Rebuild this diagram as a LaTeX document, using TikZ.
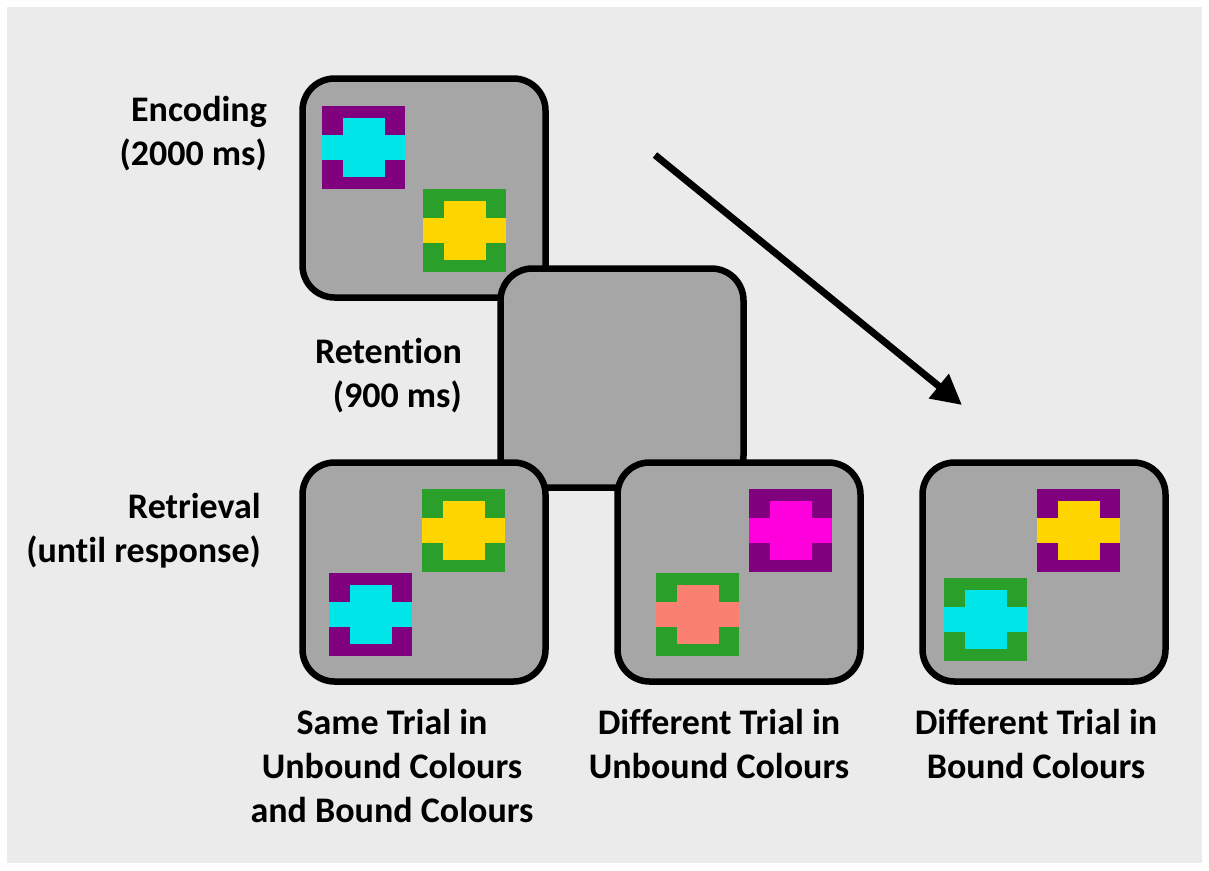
\documentclass[tikz,border=0pt]{standalone}
\usepackage{fontspec}
\setmainfont{Carlito}[Ligatures=NoCommon]
\usetikzlibrary{arrows.meta}
\definecolor{bgc}{HTML}{EBEBEB}
\definecolor{boxc}{HTML}{A6A6A6}
\definecolor{cpurple}{HTML}{800080}
\definecolor{ccyan}{HTML}{00E6E8}
\definecolor{cgreen}{HTML}{2AA02A}
\definecolor{cyellow}{HTML}{FFD500}
\definecolor{cmagenta}{HTML}{FF00DC}
\definecolor{csalmon}{HTML}{FA8072}
\newcommand\stimulus[4]{%
  \fill[#3] (#1,#2) rectangle ++(83,83);
  \fill[#4] ({#1+0.25*83},{#2+0.15*83}) rectangle ({#1+0.76*83},{#2+0.86*83});
  \fill[#4] (#1,{#2+0.35*83}) rectangle ({#1+83},{#2+0.65*83});
}
\tikzset{
  screen/.style={draw=black, fill=boxc, line width=6.5pt, rounded corners=32pt,
    minimum width=243pt, minimum height=219pt, inner sep=0pt},
  lbl/.style={font=\fontsize{36}{44}\selectfont\bfseries, text=black, inner sep=0pt},
  flow/.style={draw=black, line width=7pt, -{Triangle[length=30pt,width=30pt]}}
}
\begin{document}
\begin{tikzpicture}[x=1pt,y=-1pt]
\useasboundingbox (0,0) rectangle (1209,870);
\fill[white] (0,0) rectangle (1209,870);
\fill[bgc] (7,7) rectangle (1202,863);

% encoding screen
\node[screen] (enc) at (424,188) {};
\stimulus{322}{106}{cpurple}{ccyan}
\stimulus{423}{189}{cgreen}{cyellow}

% retention screen
\node[screen] (ret) at (622,378) {};

% retrieval screens
\node[screen] (r1) at (424,572) {};
\stimulus{422}{489}{cgreen}{cyellow}
\stimulus{329}{573}{cpurple}{ccyan}

\node[screen] (r2) at (739,572) {};
\stimulus{749}{489}{cpurple}{cmagenta}
\stimulus{656}{573}{cgreen}{csalmon}

\node[screen] (r3) at (1044,572) {};
\stimulus{1037}{489}{cpurple}{cyellow}
\stimulus{944}{578}{cgreen}{ccyan}

% arrow
\coordinate (as) at (655,155);
\coordinate (ae) at (962,405);
\draw[flow] (as) -- (ae);

% labels (base anchor = baseline of last line)
\node[lbl, anchor=base east, align=right] (enclbl) at (267,165) {Encoding\\(2000 ms)};
\node[lbl, anchor=base east, align=right] (retlbl) at (462,407) {Retention\\(900 ms)};
\node[lbl, anchor=base east, align=right] (rtrlbl) at (261,562) {Retrieval\\(until response)};

\node[lbl, anchor=base, align=center] (c1) at (392,822) {Same Trial in\\Unbound Colours\\and Bound Colours};
\node[lbl, anchor=base, align=center] (c2) at (719,778) {Different Trial in\\Unbound Colours};
\node[lbl, anchor=base, align=center] (c3) at (1036,778) {Different Trial in\\Bound Colours};
\end{tikzpicture}
\end{document}
